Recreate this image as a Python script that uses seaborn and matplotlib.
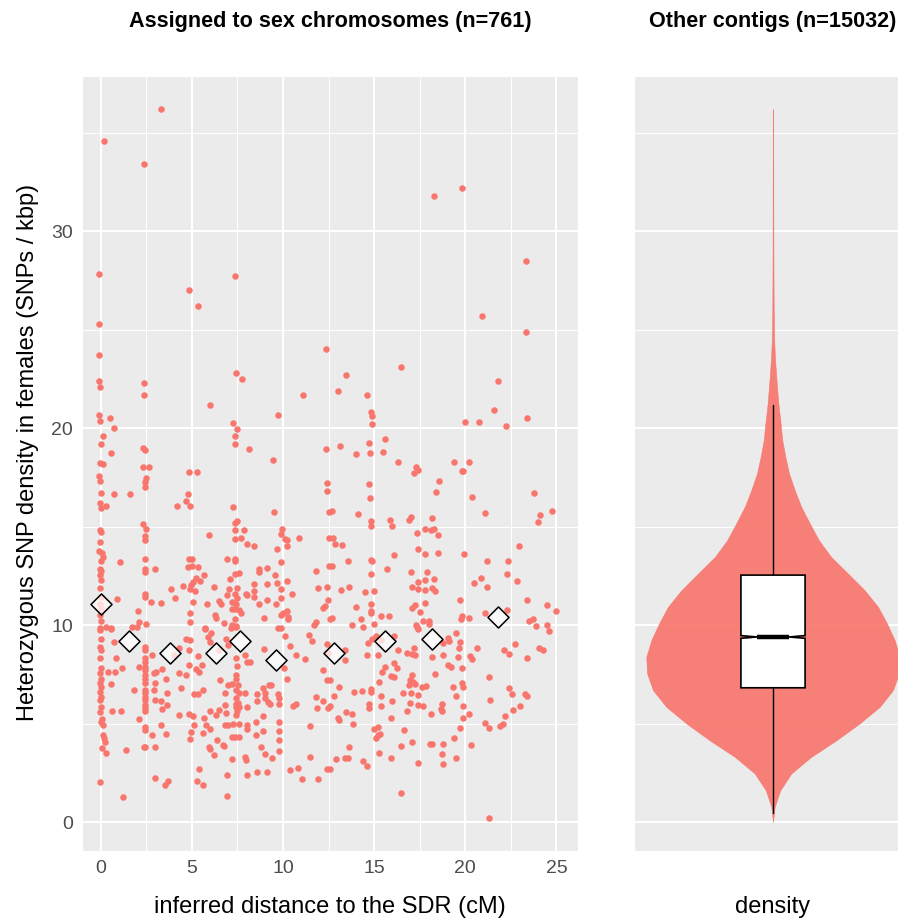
import numpy as np
import pandas as pd
import matplotlib
matplotlib.use("Agg")
import matplotlib.pyplot as plt
import seaborn as sns

# ---------------- data ----------------
# contigs assigned to the sex chromosomes: (distance to SDR in cM, het SNP density per kbp)
pts_upper_left = [
    (3.28, 36.2), (0.19, 34.6), (2.38, 33.4), (-0.1, 27.8), (7.36, 27.7), (4.87, 27.0),
    (5.33, 26.2), (-0.1, 25.3), (12.36, 24.0), (-0.1, 23.7), (7.4, 22.8), (7.75, 22.5),
    (-0.1, 22.4), (-0.05, 22.1), (2.36, 22.3), (2.4, 21.7), (11.08, 21.7), (5.97, 21.2),
    (9.71, 20.66), (-0.1, 20.66), (0.51, 20.5),
]
pts_upper_right = [
    (18.3, 31.8), (19.83, 32.2), (23.35, 28.46), (20.9, 25.7), (23.34, 24.86), (13.46, 22.7),
    (13.04, 21.9), (14.6, 21.66), (16.47, 23.1), (14.82, 20.8), (14.87, 20.6), (21.8, 22.4),
    (21.6, 20.9), (23.4, 20.5),
]
pts_mid_left = [
    (-0.05, 20.36), (0.0, 19.19), (-0.05, 18.21), (-0.1, 17.58), (-0.05, 17.33), (0.0, 16.71),
    (-0.05, 16.22), (0.0, 15.95), (-0.05, 14.82), (0.0, 14.74), (-0.05, 14.23), (-0.1, 13.76),
    (0.05, 13.64), (0.0, 13.26), (-0.05, 12.87), (0.0, 12.74), (-0.05, 12.57), (0.0, 12.28),
    (-0.05, 11.91), (0.0, 11.44), (-0.05, 11.05), (0.0, 10.85), (-0.05, 10.51), (0.0, 10.2),
    (-0.05, 9.83),
    (0.1, 19.61), (0.1, 13.46), (0.72, 20.02), (0.59, 18.75), (0.1, 18.2), (0.73, 16.66),
    (0.3, 16.04), (1.58, 16.68), (1.03, 13.2), (0.88, 11.34), (0.3, 9.9), (0.59, 9.83),
    (2.3, 19.0), (2.44, 18.87), (2.3, 18.02), (2.66, 18.02), (2.48, 17.48), (2.44, 17.26),
    (2.44, 17.0), (2.3, 15.12), (2.46, 14.9), (2.44, 14.53), (2.44, 14.31), (2.44, 13.38),
    (2.44, 12.84), (2.44, 12.7), (2.97, 12.85), (2.44, 11.57), (2.44, 11.44), (2.75, 11.15),
    (3.33, 11.12), (2.02, 10.73), (2.1, 10.14), (2.46, 10.04), (1.74, 9.9), (1.98, 9.9),
    (4.87, 17.79), (5.26, 17.79), (4.8, 16.67), (4.69, 16.3), (4.88, 16.04), (4.21, 16.04),
    (5.92, 14.57), (4.86, 13.35), (5.0, 13.37), (4.8, 12.96), (5.0, 12.99), (5.33, 12.96),
    (5.64, 12.57), (5.22, 12.37), (5.05, 12.2), (4.97, 12.03), (5.47, 12.25), (4.9, 11.86),
    (5.15, 11.74), (4.49, 11.98), (3.87, 11.86), (4.07, 11.37), (5.05, 11.15), (4.9, 10.64),
    (4.88, 10.14), (5.84, 11.08), (6.23, 11.96), (5.7, 9.83),
    (7.24, 20.24), (7.45, 19.98), (7.38, 19.59), (7.38, 19.2), (8.11, 18.95), (7.27, 15.99),
    (7.34, 15.21), (7.5, 15.28), (7.36, 14.81), (7.86, 14.81), (7.36, 14.37), (7.71, 14.43),
    (8.04, 14.13), (8.39, 14.03), (6.9, 13.38), (7.38, 13.35), (7.38, 13.26), (7.36, 12.6),
    (7.6, 12.67), (7.1, 12.32), (7.06, 11.86), (7.5, 11.9), (7.36, 11.56), (7.45, 11.36),
    (6.9, 11.53), (7.2, 11.15), (7.4, 11.05), (6.61, 11.05), (6.5, 11.25), (6.25, 10.54),
    (6.3, 10.34), (6.74, 10.12), (7.2, 10.8), (7.38, 10.8), (7.6, 10.76), (7.7, 10.6),
    (7.36, 10.3), (7.2, 10.0), (7.4, 9.96), (7.97, 11.58), (8.0, 11.53), (8.39, 11.73),
    (8.4, 11.44), (8.7, 11.05), (9.1, 11.3), (9.1, 12.11), (8.4, 12.1), (8.7, 12.87),
    (8.7, 12.7), (9.1, 12.89), (9.56, 12.57), (9.65, 12.15), (9.87, 11.86), (9.87, 11.37),
    (9.6, 11.05), (10.24, 12.25), (10.5, 11.58), (8.94, 10.37), (9.9, 10.51), (10.0, 10.63),
    (10.2, 10.7), (10.3, 10.4), (10.25, 10.3), (9.9, 9.88), (9.43, 18.38), (9.5, 15.75),
    (9.93, 14.9), (9.9, 14.65), (10.1, 14.37), (10.24, 14.3), (10.24, 14.04), (9.65, 13.88),
    (9.87, 13.19), (10.86, 14.43), (11.83, 12.77), (11.9, 11.9), (12.34, 18.92), (12.4, 17.2),
    (12.4, 16.8), (12.5, 15.75), (12.5, 14.43), (12.5, 13.0), (12.4, 11.96), (12.3, 10.98),
    (12.2, 10.85), (12.45, 11.3), (11.7, 10.0), (11.8, 10.15),
]
pts_mid_right = [
    (14.9, 20.2), (19.98, 20.3), (20.75, 20.3), (22.25, 20.1), (13.13, 19.1), (13.98, 18.71),
    (14.7, 19.24), (14.75, 18.73), (15.59, 19.46), (15.5, 18.8), (16.32, 18.28), (17.2, 17.71),
    (17.3, 18.05), (17.4, 17.87), (18.57, 17.31), (18.4, 16.75), (19.38, 18.28), (19.8, 17.8),
    (19.9, 17.8), (20.2, 18.26), (20.35, 16.51), (14.73, 17.16), (14.75, 16.45), (23.76, 16.7),
    (24.12, 15.6), (24.0, 15.26), (24.73, 15.77), (21.08, 15.68), (12.69, 15.77), (14.12, 15.65),
    (14.8, 15.28), (14.8, 15.05), (15.86, 15.36), (16.0, 15.05), (16.9, 15.33), (17.0, 15.51),
    (18.15, 15.46), (17.33, 14.67), (17.8, 14.9), (18.1, 14.83), (18.3, 14.87), (18.5, 14.57),
    (12.77, 14.43), (12.86, 14.13), (13.25, 14.08), (17.4, 13.87), (17.8, 13.62), (18.5, 13.65),
    (19.95, 13.59), (12.7, 12.98), (13.55, 13.25), (14.8, 13.33), (14.9, 13.26), (16.1, 13.55),
    (15.7, 12.86), (14.8, 12.62), (17.0, 12.72), (17.9, 12.69), (17.8, 12.27), (18.3, 12.33),
    (17.4, 12.2), (17.1, 11.95), (17.4, 11.85), (17.8, 11.77), (18.2, 11.89), (18.35, 11.75),
    (13.2, 11.76), (13.6, 11.93), (14.5, 11.69), (15.0, 11.73), (21.17, 13.25), (22.33, 13.25),
    (22.95, 14.03), (22.3, 12.62), (20.86, 12.4), (20.5, 12.13), (21.2, 11.95), (22.84, 12.25),
    (19.7, 11.3), (17.8, 11.1), (17.1, 10.86), (17.25, 11.0), (14.8, 11.05), (14.8, 10.71),
    (14.8, 10.6), (14.0, 10.93), (12.6, 10.3), (12.7, 10.38), (14.3, 10.29), (15.4, 10.44),
    (15.8, 10.44), (13.8, 10.0), (14.4, 9.9), (15.0, 10.05), (17.5, 10.66), (17.7, 10.22),
    (18.0, 10.23), (18.0, 10.08), (17.3, 10.02), (19.8, 10.44), (19.75, 10.3), (20.2, 10.34),
    (21.1, 10.61), (22.3, 10.77), (23.4, 11.3), (24.5, 11.0), (25.0, 10.7), (23.5, 10.2),
    (23.7, 10.3), (23.9, 9.97),
]
pts_low_left = [
    (-0.05, 9.75), (0.0, 9.32), (-0.05, 8.9), (0.0, 8.73), (-0.05, 8.31), (0.0, 7.8),
    (-0.05, 7.55), (0.0, 7.29), (-0.05, 7.04), (0.0, 6.87), (-0.05, 6.62), (0.0, 6.36),
    (-0.05, 6.19), (0.0, 5.85), (-0.05, 5.6), (0.0, 5.09), (0.1, 4.92), (0.15, 4.42),
    (0.2, 4.25), (0.25, 4.08), (0.05, 3.74), (0.3, 3.49), (-0.05, 2.05), (0.05, 5.25),
    (0.59, 9.8), (0.73, 9.15), (0.85, 8.31), (0.42, 7.63), (0.8, 7.6), (1.15, 7.8),
    (0.59, 6.99), (0.64, 5.63), (1.12, 5.66), (1.36, 3.64), (1.23, 1.29), (1.8, 6.7),
    (2.1, 5.22),
    (2.44, 8.9), (2.44, 8.73), (2.44, 8.31), (2.44, 8.14), (2.44, 7.88), (2.44, 7.72),
    (2.44, 7.46), (2.44, 7.29), (2.44, 7.04), (2.44, 6.7), (2.44, 6.53), (2.44, 6.36),
    (2.44, 6.19), (2.44, 5.94), (2.44, 5.77), (2.44, 5.63), (2.44, 4.84), (2.44, 4.67),
    (2.44, 3.83),
    (2.84, 8.48), (3.34, 7.77), (2.99, 7.04), (2.9, 6.7), (2.96, 6.19), (3.3, 6.14),
    (3.34, 5.73), (3.61, 5.97), (3.61, 6.58), (3.6, 7.29), (3.3, 4.92), (2.8, 4.42),
    (3.0, 3.83), (3.6, 4.45), (3.0, 2.25), (3.5, 1.87), (3.7, 2.1), (2.4, 3.82),
    (2.9, 7.55), (3.05, 7.63), (2.1, 7.88), (4.27, 8.82), (4.03, 8.48), (4.67, 9.32),
    (4.9, 9.24), (4.83, 8.73), (4.86, 7.97), (4.3, 7.55), (4.67, 7.46), (4.4, 6.82),
    (4.3, 5.46), (4.86, 5.51), (5.05, 5.39), (5.14, 4.92), (4.97, 4.58), (4.9, 4.21),
    (5.33, 6.48), (5.1, 6.48), (5.62, 6.7), (5.35, 8.44), (5.55, 7.97), (5.2, 7.77),
    (5.4, 7.63), (5.73, 9.8), (5.9, 9.41), (6.03, 9.6), (6.0, 9.15), (6.54, 7.21),
    (6.0, 5.63), (6.3, 5.46), (6.5, 5.68), (6.87, 5.56), (6.8, 5.93), (5.67, 5.29),
    (5.8, 4.92), (6.0, 4.72), (5.6, 4.5), (5.95, 3.83), (6.0, 3.7), (6.2, 3.4),
    (6.4, 4.16), (6.7, 3.94), (6.75, 3.88), (5.4, 2.69), (5.3, 2.08), (5.6, 1.91),
    (6.94, 2.39), (6.94, 1.32), (7.2, 3.2), (6.8, 4.92), (7.0, 4.92), (7.25, 4.98),
    (7.6, 5.0), (8.0, 4.92), (8.05, 4.75), (7.6, 4.33), (7.35, 4.33), (7.2, 4.33),
    (7.9, 3.3), (7.95, 3.13), (8.0, 2.39), (7.4, 8.31), (7.45, 7.93), (7.4, 7.46),
    (7.42, 7.29), (7.2, 6.99), (7.0, 6.95), (7.55, 6.95), (7.4, 6.7), (7.6, 6.53),
    (7.9, 6.53), (6.8, 6.58), (7.4, 6.28), (7.4, 6.0), (7.55, 6.05), (7.42, 5.85),
    (7.6, 5.85), (7.4, 5.46), (7.45, 5.63), (8.0, 5.85), (7.0, 8.99), (6.85, 9.32),
    (7.15, 9.86), (7.4, 9.9), (7.9, 8.5), (8.0, 8.14), (8.2, 8.14), (6.5, 8.73),
    (8.96, 8.78), (8.6, 6.48), (8.6, 6.14), (8.9, 6.82), (9.0, 6.53), (9.0, 6.28),
    (9.15, 6.1), (9.3, 6.0), (9.25, 6.95), (9.35, 6.95), (9.7, 6.48), (9.8, 6.3),
    (9.8, 6.0), (10.08, 7.84), (10.1, 9.44), (10.4, 8.95), (10.2, 7.29), (10.7, 8.48),
    (8.9, 5.39), (8.9, 4.62), (8.5, 5.06), (8.5, 4.42), (8.8, 3.83), (9.0, 3.44),
    (8.6, 2.52), (9.1, 2.56), (9.4, 3.27), (9.8, 5.09), (9.8, 4.62), (9.8, 4.16),
    (9.8, 3.6), (10.7, 5.98), (10.55, 5.9), (10.4, 2.67), (10.8, 2.76), (11.05, 2.2),
    (11.9, 2.2), (11.5, 3.32), (11.5, 4.87), (11.8, 6.36), (11.85, 5.78), (12.2, 6.14),
    (12.45, 5.8), (12.4, 2.69), (12.2, 7.71), (12.4, 7.21), (11.2, 8.27), (11.4, 9.49),
    (11.6, 9.22), (12.4, 9.04), (12.45, 8.6), (9.7, 9.86),
]
pts_low_right = [
    (13.39, 8.73), (13.4, 8.22), (12.57, 7.2), (13.06, 6.85), (12.8, 6.38), (12.57, 5.9),
    (13.0, 5.3), (13.05, 5.18), (13.48, 5.6), (13.8, 5.51), (13.85, 5.0), (13.6, 3.79),
    (13.4, 3.28), (13.55, 3.28), (12.9, 3.18), (12.57, 2.72), (13.9, 6.62), (14.36, 6.65),
    (14.8, 6.78), (14.85, 6.62), (14.73, 6.02), (14.7, 5.8), (15.0, 4.72), (15.2, 4.84),
    (15.2, 4.42), (15.3, 4.45), (15.1, 4.25), (15.25, 3.52), (14.4, 3.11), (14.6, 2.84),
    (15.9, 3.26), (16.45, 1.49), (16.5, 3.87), (16.65, 4.67), (15.9, 5.3), (15.37, 6.38),
    (15.4, 5.9), (15.99, 6.14), (15.28, 7.09), (15.44, 7.63), (15.6, 7.87), (15.9, 7.43),
    (16.1, 7.38), (16.27, 7.8), (16.08, 8.1), (16.3, 8.73), (14.67, 9.07), (14.6, 8.48),
    (15.2, 8.48), (14.9, 9.29), (15.1, 9.45), (15.35, 9.24), (16.1, 9.44), (16.8, 8.61),
    (17.05, 8.56), (17.2, 8.82), (17.25, 8.48), (17.4, 9.8), (17.35, 9.92), (16.6, 6.53),
    (16.8, 5.63), (16.95, 6.07), (17.0, 6.53), (17.4, 6.45), (17.4, 5.95), (17.66, 5.9),
    (17.05, 7.46), (16.95, 7.2), (16.9, 6.95), (17.15, 7.1), (17.25, 7.0), (17.6, 6.84),
    (17.85, 6.9), (17.1, 4.05), (17.4, 3.01), (18.05, 3.96), (18.2, 3.99), (18.8, 3.96),
    (18.7, 3.47), (18.8, 2.93), (19.5, 3.26), (19.4, 4.28), (19.7, 4.8), (19.9, 5.3),
    (20.2, 5.51), (19.9, 5.9), (20.3, 3.94), (18.7, 6.02), (18.68, 5.73), (18.7, 5.63),
    (18.1, 5.49), (18.34, 7.54), (18.17, 8.38), (18.8, 8.48), (18.8, 9.07), (19.07, 9.36),
    (19.12, 9.2), (19.5, 9.58), (19.7, 9.15), (19.68, 8.85), (19.6, 8.38), (20.25, 8.41),
    (20.35, 8.3), (20.66, 8.85), (19.07, 7.97), (19.2, 7.88), (19.8, 7.8), (19.3, 6.85),
    (19.8, 7.07), (19.85, 6.87), (19.5, 6.38), (21.3, 7.38), (21.35, 6.22), (21.1, 5.04),
    (21.3, 4.8), (21.9, 4.87), (22.05, 4.97), (22.2, 5.38), (22.6, 5.68), (23.0, 5.92),
    (22.4, 6.82), (22.55, 6.49), (23.3, 6.48), (23.4, 6.4), (21.3, 0.19), (22.1, 8.76),
    (22.4, 8.54), (22.75, 9.02), (23.4, 8.32), (24.07, 8.82), (24.25, 8.75), (24.5, 10.0),
    (24.6, 9.69),
]

# mean SNP density per distance bin (diamonds)
bin_mean_dist = [0.0, 1.54, 3.79, 6.32, 7.64, 9.6, 12.8, 15.6, 18.2, 21.8]
bin_mean_snp = [11.07, 9.19, 8.58, 8.58, 9.19, 8.22, 8.58, 9.19, 9.3, 10.4]

# other contigs (n = 15032): density profile of the violin (relative width) and box-plot statistics
violin_y = [0.0, 0.77, 1.62, 2.47, 3.31, 4.16, 5.0, 5.85, 6.7, 7.55, 8.39, 9.24, 10.08,
            10.93, 11.77, 12.62, 13.47, 14.3, 15.17, 16.0, 16.85, 17.7, 18.55, 19.39,
            20.3, 21.2, 22.4, 23.5, 24.5, 26.0, 29.0, 33.0, 36.2]
violin_density = [0.0, 0.013, 0.057, 0.144, 0.30, 0.50, 0.68, 0.84, 0.945, 0.992, 0.998,
                  0.958, 0.898, 0.827, 0.722, 0.59, 0.457, 0.362, 0.289, 0.223, 0.171,
                  0.126, 0.097, 0.073, 0.059, 0.043, 0.028, 0.016, 0.009, 0.0055, 0.003,
                  0.002, 0.0]
box_stats = dict(whislo=0.47, q1=6.82, med=9.40, q3=12.54, whishi=21.17,
                 cilo=9.33, cihi=9.47)

titles = ["Assigned to sex chromosomes (n=761)", "Other contigs (n=15032)"]
x_label = "inferred distance to the SDR (cM)"
y_label = "Heterozygous SNP density in females (SNPs / kbp)"
right_x_label = "density"

# ---------------- build ----------------
frames = []
for grp in [pts_upper_left, pts_upper_right, pts_mid_left, pts_mid_right, pts_low_left, pts_low_right]:
    frames.append(pd.DataFrame(grp, columns=["distance", "snp"]))
df = pd.concat(frames, ignore_index=True)
means = pd.DataFrame({"distance": bin_mean_dist, "snp": bin_mean_snp})

sns.set_theme(style="darkgrid")
plt.rcParams["font.family"] = ["Liberation Sans", "DejaVu Sans"]

W, H = 898, 921
fig = plt.figure(figsize=(W / 100, H / 100), dpi=100)

def px_axes(l, t, r, b):
    return fig.add_axes([l / W, 1 - b / H, (r - l) / W, (b - t) / H])

RED = "#F8766D"
BG = "#EBEBEB"

ax = px_axes(82.5, 77.5, 578.3, 850.7)
ax2 = px_axes(635, 77.5, 911, 850.7)

ylim = (-1.45, 37.8)
for a in (ax, ax2):
    a.set_facecolor(BG)
    for s in a.spines.values():
        s.set_visible(False)
    a.set_ylim(*ylim)
    a.set_yticks([0, 10, 20, 30])
    a.set_yticks([5, 15, 25, 35], minor=True)
    a.grid(which="major", color="white", linewidth=1.5)
    a.grid(which="minor", color="white", linewidth=0.75)
    a.set_axisbelow(True)

# left panel
ax.set_xlim(-1.0, 26.2)
ax.set_xticks([0, 5, 10, 15, 20, 25])
ax.set_xticks([2.5, 7.5, 12.5, 17.5, 22.5], minor=True)
sns.scatterplot(data=df, x="distance", y="snp", ax=ax, color=RED, s=22,
                linewidth=0, alpha=1, zorder=2)
sns.scatterplot(data=means, x="distance", y="snp", ax=ax, marker="D", s=115,
                facecolor=(1, 1, 1, 0.75), edgecolor="black", linewidth=1.1, zorder=3)
ax.set_xlabel("")
ax.set_ylabel("")
ax.tick_params(axis="both", which="major", length=4, width=1.2, color="#333333",
               labelsize=14, labelcolor="#4D4D4D", pad=3)
ax.tick_params(axis="both", which="minor", length=0)

# right panel
ax2.set_xlim(-1, 1)
ax2.grid(False, axis="x", which="both")
ax2.set_xticks([])
ax2.tick_params(axis="y", which="both", length=0, labelleft=False)
vy = np.array(violin_y)
vw = np.array(violin_density) * 0.92
ax2.fill_betweenx(vy, -vw, vw, facecolor=RED, edgecolor=RED, linewidth=0.4, alpha=0.92, zorder=2)
ax2.bxp([box_stats], positions=[0], widths=0.465, shownotches=True, showfliers=False,
        showcaps=False, patch_artist=True,
        boxprops=dict(facecolor="white", edgecolor="black", linewidth=1.2),
        whiskerprops=dict(color="black", linewidth=1.0),
        medianprops=dict(color="black", linewidth=3.2, solid_capstyle="butt"),
        manage_ticks=False, zorder=3)

# texts
fig.text(330 / W, 1 - 22 / H, titles[0], ha="center", va="center", fontsize=15.6,
         fontweight="bold", color="black")
fig.text(773 / W, 1 - 22 / H, titles[1], ha="center", va="center", fontsize=15.6,
         fontweight="bold", color="black")
fig.text(330 / W, 1 - 907 / H, x_label, ha="center", va="center", fontsize=17, color="black")
fig.text(773 / W, 1 - 907 / H, right_x_label, ha="center", va="center", fontsize=17, color="black")
fig.text(28 / W, 1 - 452 / H, y_label, ha="center", va="center", rotation=90,
         fontsize=17, color="black")

fig.savefig("out.png", dpi=100)
